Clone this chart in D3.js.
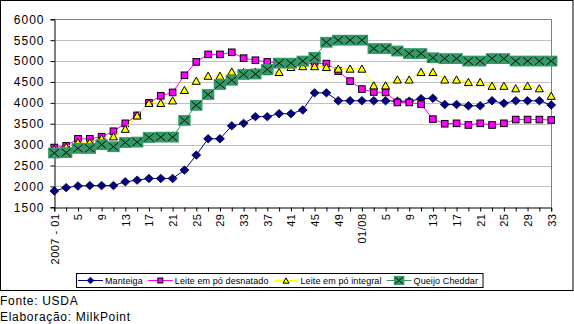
<!DOCTYPE html>
<html>
<head>
<meta charset="utf-8">
<script src="https://cdn.jsdelivr.net/npm/d3@7"></script>
<style>
  html, body { margin: 0; padding: 0; background: #fff; }
  svg { display: block; }
  text { font-family: "Liberation Sans", Arial, sans-serif; fill: #000; }
</style>
</head>
<body>
<svg id="chart" width="574" height="324"></svg>
<script>
// Fortnightly categories: 2007 weeks 1..51, then 2008 weeks 1..33
const categories = [
  "2007 - 01","3","5","7","9","11","13","15","17","19","21","23","25","27","29",
  "31","33","35","37","39","41","43","45","47","49","51",
  "01/08","3","5","7","9","11","13","15","17","19","21","23","25","27","29","31","33"
];

// US$/t
const manteiga = [
  1890,1970,2010,2020,2020,2020,2110,2150,2190,2190,2190,2390,2750,3140,3140,
  3450,3510,3670,3670,3740,3740,3830,4240,4240,4050,4050,
  4050,4050,4050,4040,4040,4100,4110,3960,3960,3930,3930,4050,3990,4050,4050,4050,3950
];
const leiteDesnatado = [
  2930,2970,3140,3140,3190,3320,3510,3700,4000,4170,4250,4660,4980,5160,5160,
  5210,5070,5020,4980,4950,4960,4950,4940,4940,4760,4520,
  4330,4260,4250,4010,4010,3970,3610,3500,3510,3470,3510,3470,3510,3600,3600,3600,3590
];
const leiteIntegral = [
  2900,2950,3060,3060,3150,3200,3380,3700,4000,4000,4060,4310,4530,4650,4650,
  4750,4740,4750,4760,4740,4860,4880,4880,4860,4820,4820,
  4820,4420,4420,4560,4560,4740,4740,4560,4560,4500,4500,4410,4410,4350,4410,4350,4170
];
const queijoCheddar = [
  2800,2810,2910,2910,3000,2950,3050,3060,3170,3180,3180,3580,3940,4200,4440,
  4540,4680,4690,4800,4950,4950,5000,5090,5450,5500,5500,
  5500,5300,5300,5240,5180,5180,5080,5060,5060,5000,5000,5060,5060,5000,5000,5000,5000
];
const yTicks = [1500,2000,2500,3000,3500,4000,4500,5000,5500,6000];

const seriesList = [
  { name: "Manteiga", values: manteiga, color: "#000080", marker: "diamond" },
  { name: "Leite em pó desnatado", values: leiteDesnatado, color: "#FF00FF", marker: "square" },
  { name: "Leite em pó integral", values: leiteIntegral, color: "#FFFF00", marker: "triangle" },
  { name: "Queijo Cheddar", values: queijoCheddar, color: "#339966", marker: "block" }
];

const svg = d3.select("#chart");
const plot = { left: 54.3, right: 551.2, top: 19.3, bottom: 207.3 };

const x = d3.scalePoint().domain(d3.range(categories.length)).range([plot.left, plot.right]);
const y = d3.scaleLinear().domain([1500, 6000]).range([plot.bottom, plot.top]);

// outer frame
svg.append("rect").attr("x", 0.5).attr("y", 0.5).attr("width", 572.5).attr("height", 290)
  .attr("fill", "#fff").attr("stroke", "#000").attr("stroke-width", 1);

// gridlines
svg.append("g").selectAll("line").data(yTicks.filter(t => t > 1500 && t < 6000)).join("line")
  .attr("x1", plot.left).attr("x2", plot.right)
  .attr("y1", d => Math.round(y(d)) + 0.5).attr("y2", d => Math.round(y(d)) + 0.5)
  .attr("stroke", "#c0c0c0").attr("stroke-width", 1);

// plot-area border (top, right)
svg.append("path")
  .attr("d", `M${plot.left},${Math.round(plot.top) + 0.5}H${Math.round(plot.right) + 0.5}V${plot.bottom}`)
  .attr("fill", "none").attr("stroke", "#808080");

// y axis
const yAxis = svg.append("g")
  .attr("transform", `translate(${Math.round(plot.left) + 0.5},0)`)
  .call(d3.axisLeft(y).tickValues(yTicks).tickSize(4).tickPadding(6).tickFormat(d3.format("d")));
yAxis.select(".domain").attr("stroke", "#000");
yAxis.selectAll(".tick line").attr("stroke", "#000");
yAxis.selectAll(".tick text")
  .style("font-family", "'Liberation Sans', Arial, sans-serif")
  .style("font-size", "12px").style("letter-spacing", "1px");

// x axis
const xAxis = svg.append("g")
  .attr("transform", `translate(0,${Math.round(plot.bottom) + 0.5})`)
  .call(d3.axisBottom(x).tickSize(4).tickFormat(i => i % 2 === 0 ? categories[i] : ""));
xAxis.select(".domain").attr("stroke", "#000");
xAxis.selectAll(".tick line").attr("stroke", "#000");
xAxis.selectAll(".tick text")
  .style("font-family", "'Liberation Sans', Arial, sans-serif")
  .style("font-size", "11px").style("letter-spacing", "0.5px")
  .attr("transform", "rotate(-90)")
  .attr("text-anchor", "end")
  .attr("x", -6).attr("y", 0).attr("dy", "0.35em");

// marker shapes
function drawMarker(g, type, color, cx, cy, scale) {
  const s = scale || 1;
  if (type === "diamond") {
    const w = 4.5 * s, h = 4.2 * s;
    g.append("path").attr("d", `M${cx},${cy - h}L${cx + w},${cy}L${cx},${cy + h}L${cx - w},${cy}Z`)
      .attr("fill", color).attr("stroke", "#000040").attr("stroke-width", 0.8);
  } else if (type === "square") {
    const h = 3.3 * s;
    g.append("rect").attr("x", cx - h).attr("y", cy - h).attr("width", 2 * h).attr("height", 2 * h)
      .attr("fill", color).attr("stroke", "#000").attr("stroke-width", 1);
  } else if (type === "triangle") {
    const w = 4 * s, h = 3.6 * s;
    g.append("path").attr("d", `M${cx},${cy - h}L${cx + w},${cy + h}L${cx - w},${cy + h}Z`)
      .attr("fill", color).attr("stroke", "#000").attr("stroke-width", 1);
  } else if (type === "block") {
    const w = 6.2 * s, h = 5.4 * s;
    g.append("rect").attr("x", cx - w).attr("y", cy - h).attr("width", 2 * w).attr("height", 2 * h)
      .attr("fill", color);
    g.append("path")
      .attr("d", `M${cx - w + 1.5},${cy - h + 1.5}L${cx + w - 1.5},${cy + h - 1.5}M${cx + w - 1.5},${cy - h + 1.5}L${cx - w + 1.5},${cy + h - 1.5}`)
      .attr("stroke", "#000").attr("stroke-width", 0.9).attr("fill", "none");
  }
}

// series: lines then markers, each series drawn over the previous one
const line = d3.line().x((d, i) => x(i)).y(d => y(d));
seriesList.forEach(s => {
  const g = svg.append("g");
  g.append("path").datum(s.values).attr("d", line)
    .attr("fill", "none").attr("stroke", s.color).attr("stroke-width", 1);
  s.values.forEach((v, i) => drawMarker(g, s.marker, s.color, x(i), y(v)));
});

// legend
const legend = svg.append("g");
const legendBox = legend.append("rect").attr("y", 273.5).attr("height", 14)
  .attr("fill", "#fff").attr("stroke", "#000").attr("stroke-width", 1);
let lx = 78;
const ly = 280.5;
seriesList.forEach(s => {
  legend.append("line").attr("x1", lx).attr("x2", lx + 25).attr("y1", ly).attr("y2", ly)
    .attr("stroke", s.color).attr("stroke-width", 1);
  drawMarker(legend, s.marker, s.color, lx + 12.5, ly, s.marker === "block" ? 0.85 : 0.75);
  const t = legend.append("text").attr("x", lx + 27).attr("y", ly + 3.5)
    .style("font-size", "9px").style("letter-spacing", "0.1px").text(s.name);
  lx = lx + 27 + t.node().getComputedTextLength() + 5;
});
legendBox.attr("x", 76.5).attr("width", lx - 76.5);

// source notes
svg.append("text").attr("x", 0).attr("y", 305).style("font-size", "12px")
  .style("letter-spacing", "0.7px").text("Fonte: USDA");
svg.append("text").attr("x", 0).attr("y", 320.5).style("font-size", "12px")
  .style("letter-spacing", "0.7px").text("Elaboração: MilkPoint");
</script>
</body>
</html>
